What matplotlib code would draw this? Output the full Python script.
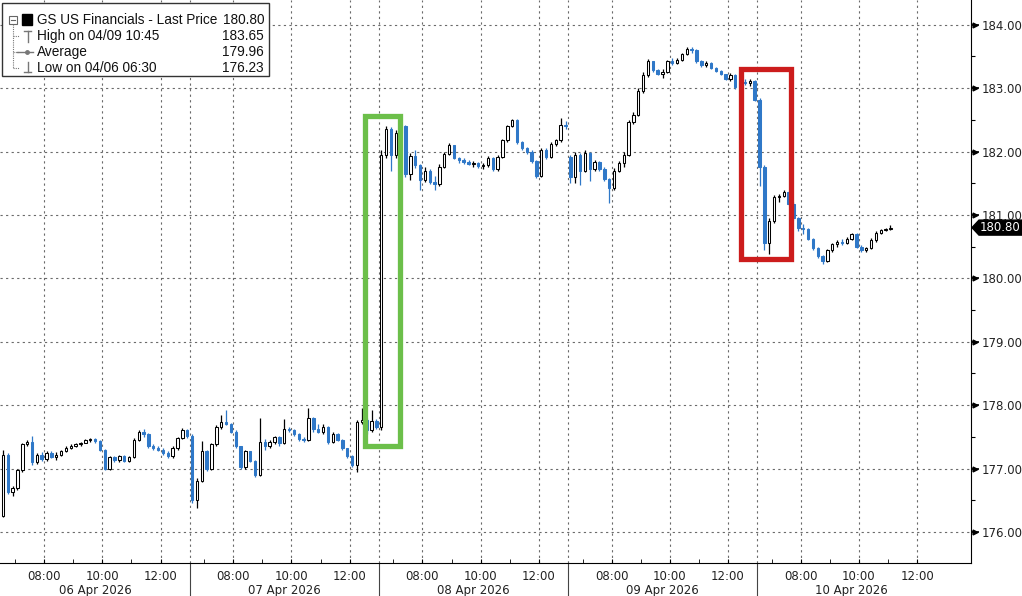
import matplotlib
matplotlib.use("Agg")
import matplotlib.pyplot as plt
from matplotlib.patches import Rectangle, Polygon
from matplotlib.lines import Line2D
import matplotlib.transforms as mtransforms

# ---------------- data (10-minute bars, session 06:30-13:00) ----------------
day_labels = ["06 Apr 2026", "07 Apr 2026", "08 Apr 2026", "09 Apr 2026", "10 Apr 2026"]
hour_labels = ["08:00", "10:00", "12:00"]
hour_values = [8, 10, 12]
price_ticks = [176, 177, 178, 179, 180, 181, 182, 183, 184]

# (open, high, low, close)
ohlc_apr06 = [
    (176.25, 177.30, 176.23, 177.22), (177.22, 177.25, 176.60, 176.63), (176.63, 176.72, 176.57, 176.70),
    (176.70, 177.00, 176.66, 176.98), (176.98, 177.40, 176.95, 177.38), (177.38, 177.45, 177.35, 177.42),
    (177.42, 177.51, 177.05, 177.10), (177.10, 177.25, 177.07, 177.22), (177.22, 177.26, 177.12, 177.15),
    (177.15, 177.27, 177.12, 177.24), (177.24, 177.27, 177.16, 177.18), (177.18, 177.26, 177.14, 177.22),
    (177.22, 177.30, 177.20, 177.28), (177.28, 177.35, 177.26, 177.33), (177.33, 177.38, 177.31, 177.36),
    (177.36, 177.40, 177.34, 177.38), (177.38, 177.42, 177.35, 177.41), (177.41, 177.47, 177.40, 177.45),
    (177.45, 177.48, 177.42, 177.46), (177.46, 177.48, 177.40, 177.44), (177.44, 177.45, 177.28, 177.30),
    (177.30, 177.31, 176.97, 177.00), (177.00, 177.20, 176.98, 177.18), (177.18, 177.20, 177.10, 177.13),
    (177.13, 177.22, 177.10, 177.20), (177.20, 177.21, 177.10, 177.12), (177.12, 177.20, 177.10, 177.18),
    (177.18, 177.48, 177.16, 177.45), (177.45, 177.60, 177.43, 177.58), (177.58, 177.63, 177.50, 177.55),
    (177.55, 177.56, 177.33, 177.36), (177.36, 177.38, 177.30, 177.33), (177.33, 177.36, 177.28, 177.30),
    (177.30, 177.32, 177.22, 177.25), (177.25, 177.27, 177.17, 177.19), (177.19, 177.35, 177.17, 177.33),
    (177.33, 177.50, 177.30, 177.48), (177.48, 177.64, 177.46, 177.60), (177.60, 177.63, 177.48, 177.52),
]
ohlc_apr07 = [
    (177.52, 177.55, 176.45, 176.50), (176.50, 176.85, 176.38, 176.80), (176.80, 177.43, 176.78, 177.28),
    (177.28, 177.30, 176.96, 177.00), (177.00, 177.40, 176.98, 177.38), (177.38, 177.68, 177.35, 177.65),
    (177.65, 177.85, 177.62, 177.74), (177.74, 177.93, 177.68, 177.71), (177.71, 177.72, 177.56, 177.58),
    (177.58, 177.60, 177.33, 177.35), (177.35, 177.36, 176.99, 177.03), (177.03, 177.30, 177.00, 177.27),
    (177.27, 177.28, 177.10, 177.12), (177.12, 177.14, 176.86, 176.90), (176.90, 177.80, 176.88, 177.42),
    (177.42, 177.46, 177.30, 177.35), (177.35, 177.45, 177.32, 177.42), (177.42, 177.52, 177.38, 177.50),
    (177.50, 177.52, 177.36, 177.40), (177.40, 177.78, 177.38, 177.63), (177.63, 177.66, 177.58, 177.60),
    (177.60, 177.62, 177.52, 177.54), (177.54, 177.56, 177.44, 177.47), (177.47, 177.50, 177.42, 177.45),
    (177.45, 177.95, 177.43, 177.80), (177.80, 177.82, 177.58, 177.62), (177.62, 177.70, 177.56, 177.58),
    (177.58, 177.70, 177.55, 177.66), (177.66, 177.67, 177.38, 177.42), (177.42, 177.58, 177.40, 177.55),
    (177.55, 177.56, 177.43, 177.45), (177.45, 177.46, 177.30, 177.32), (177.32, 177.33, 177.17, 177.20),
    (177.20, 177.22, 177.02, 177.05), (177.05, 177.77, 176.95, 177.74), (177.74, 177.95, 177.70, 177.76),
    (177.76, 177.80, 177.55, 177.60), (177.60, 177.93, 177.58, 177.75), (177.75, 177.78, 177.62, 177.66),
]
ohlc_apr08 = [
    (177.66, 182.03, 177.60, 181.95), (181.95, 182.40, 181.90, 182.35), (182.35, 182.38, 181.69, 181.95),
    (181.95, 182.34, 181.90, 182.30), (182.30, 182.48, 182.25, 182.40), (182.40, 182.42, 181.60, 181.65),
    (181.65, 181.98, 181.55, 181.93), (181.93, 182.02, 181.74, 181.78), (181.78, 181.80, 181.40, 181.55),
    (181.55, 181.76, 181.52, 181.70), (181.70, 181.72, 181.48, 181.52), (181.52, 181.62, 181.40, 181.48),
    (181.48, 181.80, 181.46, 181.76), (181.76, 182.00, 181.74, 181.96), (181.96, 182.13, 181.94, 182.10),
    (182.10, 182.11, 181.88, 181.90), (181.90, 181.92, 181.82, 181.86), (181.86, 181.90, 181.80, 181.84),
    (181.84, 181.87, 181.78, 181.80), (181.80, 181.85, 181.76, 181.82), (181.82, 181.84, 181.74, 181.77),
    (181.77, 181.82, 181.72, 181.78), (181.78, 181.93, 181.76, 181.90), (181.90, 181.92, 181.70, 181.73),
    (181.73, 181.95, 181.70, 181.92), (181.92, 182.20, 181.90, 182.18), (182.18, 182.42, 182.15, 182.40),
    (182.40, 182.52, 182.38, 182.50), (182.50, 182.52, 182.12, 182.15), (182.15, 182.16, 182.02, 182.05),
    (182.05, 182.07, 181.96, 182.00), (182.00, 182.02, 181.82, 181.85), (181.85, 181.86, 181.58, 181.62),
    (181.62, 182.05, 181.60, 182.02), (182.02, 182.05, 181.88, 181.92), (181.92, 182.15, 181.90, 182.12),
    (182.12, 182.20, 182.08, 182.18), (182.18, 182.53, 182.15, 182.42), (182.42, 182.48, 182.35, 182.40),
]
ohlc_apr09 = [
    (181.92, 181.95, 181.50, 181.60), (181.60, 182.00, 181.50, 181.95), (181.95, 181.97, 181.47, 181.70),
    (181.70, 182.02, 181.68, 181.98), (181.98, 182.00, 181.53, 181.72), (181.72, 181.86, 181.70, 181.84),
    (181.84, 181.85, 181.70, 181.73), (181.73, 181.75, 181.53, 181.56), (181.56, 181.58, 181.19, 181.42),
    (181.42, 181.74, 181.40, 181.70), (181.70, 181.85, 181.68, 181.82), (181.82, 182.00, 181.76, 181.95),
    (181.95, 182.50, 181.93, 182.46), (182.46, 182.62, 182.44, 182.58), (182.58, 183.00, 182.56, 182.95),
    (182.95, 183.25, 182.93, 183.20), (183.20, 183.46, 183.18, 183.42), (183.42, 183.43, 183.25, 183.28),
    (183.28, 183.30, 183.20, 183.22), (183.22, 183.30, 183.16, 183.26), (183.26, 183.45, 183.24, 183.42),
    (183.42, 183.47, 183.36, 183.40), (183.40, 183.47, 183.38, 183.45), (183.45, 183.56, 183.43, 183.54),
    (183.54, 183.65, 183.52, 183.62), (183.62, 183.65, 183.55, 183.60), (183.60, 183.61, 183.40, 183.42),
    (183.42, 183.44, 183.33, 183.36), (183.36, 183.43, 183.34, 183.40), (183.40, 183.41, 183.30, 183.32),
    (183.32, 183.33, 183.25, 183.27), (183.27, 183.28, 183.20, 183.22), (183.22, 183.23, 183.13, 183.15),
    (183.15, 183.24, 183.12, 183.21), (183.21, 183.22, 182.98, 183.02), (183.02, 183.13, 183.00, 183.10),
    (183.10, 183.14, 183.05, 183.08), (183.08, 183.14, 183.04, 183.12), (183.12, 183.13, 182.80, 182.82),
]
ohlc_apr10 = [
    (182.82, 182.84, 181.45, 181.75), (181.75, 181.78, 180.45, 180.55), (180.55, 180.95, 180.39, 180.90),
    (180.90, 181.32, 180.88, 181.28), (181.28, 181.33, 181.20, 181.30), (181.30, 181.40, 181.28, 181.36),
    (181.36, 181.38, 181.15, 181.18), (181.18, 181.20, 180.92, 180.95), (180.95, 180.97, 180.75, 180.80),
    (180.80, 180.85, 180.70, 180.78), (180.78, 180.80, 180.60, 180.62), (180.62, 180.63, 180.45, 180.48),
    (180.48, 180.50, 180.32, 180.35), (180.35, 180.37, 180.22, 180.28), (180.28, 180.46, 180.26, 180.44),
    (180.44, 180.56, 180.42, 180.54), (180.54, 180.60, 180.50, 180.58), (180.58, 180.62, 180.53, 180.56),
    (180.56, 180.65, 180.54, 180.62), (180.62, 180.72, 180.60, 180.70), (180.70, 180.71, 180.48, 180.50),
    (180.50, 180.52, 180.42, 180.45), (180.45, 180.50, 180.42, 180.48), (180.48, 180.63, 180.46, 180.60),
    (180.60, 180.74, 180.58, 180.72), (180.72, 180.78, 180.70, 180.76), (180.76, 180.80, 180.74, 180.78),
    (180.78, 180.84, 180.76, 180.80),
]
sessions = [ohlc_apr06, ohlc_apr07, ohlc_apr08, ohlc_apr09, ohlc_apr10]

legend_names = ["GS US Financials - Last Price", "High on 04/09 10:45", "Average", "Low on 04/06 06:30"]
legend_values = ["180.80", "183.65", "179.96", "176.23"]
last_price = 180.80

# highlight boxes: (x0, x1 in bar units, y0, y1 price)
green_box = (74.6, 81.8, 177.35, 182.56)
red_box = (152.1, 162.4, 180.30, 183.30)

# ---------------- figure ----------------
W, H = 1022, 596
BARS_PER_DAY = 39
UP_EDGE = "#000000"
DOWN_COL = "#2f78c8"
GRID_COL = "#6a6a6a"
LEG_FONT = ["Liberation Sans", "DejaVu Sans"]

fig = plt.figure(figsize=(W / 100, H / 100), dpi=100)
ax = fig.add_axes([0.0, 33 / H, 971 / W, 563 / H])
ax.set_xlim(-0.6, 199.6)
ax.set_ylim(175.51, 184.39)

def bar_pos(day, hour):
    return day * BARS_PER_DAY + (hour - 6.5) * 6 - 0.5

# grid
for p in price_ticks:
    ax.axhline(p, color=GRID_COL, lw=0.8, ls=(0, (2, 3)), zorder=1)
for d in range(5):
    for h in hour_values:
        ax.axvline(bar_pos(d, h), color=GRID_COL, lw=0.8, ls=(0, (2, 3)), zorder=1)
    if d > 0:
        ax.axvline(d * BARS_PER_DAY - 0.5, color=GRID_COL, lw=0.8, ls=(0, (2, 3)), zorder=1)

# candles
bw = 0.5
for d, sess in enumerate(sessions):
    for k, (o, h, l, c) in enumerate(sess):
        x = d * BARS_PER_DAY + k
        up = c >= o
        col = UP_EDGE if up else DOWN_COL
        ax.vlines(x, l, h, color=col, lw=0.9, zorder=3)
        lo = min(o, c)
        hgt = max(abs(c - o), 0.012)
        ax.bar(x, hgt, bottom=lo, width=bw, color="white" if up else DOWN_COL,
               edgecolor=col, linewidth=0.75, zorder=4)

# highlight boxes
gx0, gx1, gy0, gy1 = green_box
ax.add_patch(Rectangle((gx0, gy0), gx1 - gx0, gy1 - gy0, fill=False,
                       edgecolor="#6cbf4a", linewidth=3.8, zorder=6))
rx0, rx1, ry0, ry1 = red_box
ax.add_patch(Rectangle((rx0, ry0), rx1 - rx0, ry1 - ry0, fill=False,
                       edgecolor="#cc1c1c", linewidth=3.8, zorder=6))

# spines
for s in ["left", "top"]:
    ax.spines[s].set_visible(False)
ax.spines["right"].set_color("black")
ax.spines["bottom"].set_color("black")

# y axis on right
ax.yaxis.tick_right()
ax.set_yticks(price_ticks)
ax.set_yticklabels([f"{p:.2f}" for p in price_ticks], fontsize=8.5, color="#222222")
ax.set_yticks([p + 0.5 for p in price_ticks[:-1]], minor=True)
ax.tick_params(axis="y", which="major", direction="out", length=6, width=1.2, pad=2)
ax.tick_params(axis="y", which="minor", direction="out", length=3, width=0.8)
trans_y = mtransforms.blended_transform_factory(ax.transAxes, ax.transData)
ax.plot([1.0045] * len(price_ticks), price_ticks, ">", ms=3.5, color="black",
        transform=trans_y, clip_on=False, zorder=7)

# x axis
xt = [bar_pos(d, h) for d in range(5) for h in hour_values]
ax.set_xticks(xt)
ax.set_xticklabels(hour_labels * 5, fontsize=8.5, color="#222222")
ax.set_xticks([bar_pos(d, h) for d in range(5) for h in range(7, 13)], minor=True)
ax.tick_params(axis="x", which="major", direction="in", length=3, pad=5)
ax.tick_params(axis="x", which="minor", direction="in", length=3)

trans_x = mtransforms.blended_transform_factory(ax.transData, ax.transAxes)
for d, lab in enumerate(day_labels):
    ax.text(d * BARS_PER_DAY + 19, -0.048, lab, transform=trans_x, ha="center",
            va="center", fontsize=8.5, color="#222222")
    if d > 0:
        ax.plot([d * BARS_PER_DAY - 0.5] * 2, [0, -0.06], color="#444444", lw=0.8,
                transform=trans_x, clip_on=False)

# last price tag
yc = last_price
hh = 7.5 / 63.4
xa = 972 / W
xb = 979 / W
tag_tr = mtransforms.blended_transform_factory(fig.transFigure, ax.transData)
tag = Polygon([(xa, yc), (xb, yc + hh), (1.0, yc + hh), (1.0, yc - hh), (xb, yc - hh)],
              closed=True, transform=tag_tr,
              facecolor="black", edgecolor="black", clip_on=False, zorder=8)
fig.add_artist(tag)
fig.text(1000 / W, yc, f"{last_price:.2f}", color="white", fontsize=8.5, ha="center", va="center",
         transform=tag_tr, zorder=9)

# ---------------- legend box (pixel coordinates, top-left origin) ----------------
def P(x, y):
    return (x / W, 1 - y / H)

def fline(x0, y0, x1, y1, **kw):
    (a, b), (c, d) = P(x0, y0), P(x1, y1)
    fig.add_artist(Line2D([a, c], [b, d], transform=fig.transFigure, **kw))

bx0, by0 = P(2, 76)
fig.add_artist(Rectangle((bx0, by0), 267 / W, 73 / H, transform=fig.transFigure,
                         facecolor="white", edgecolor="#333333", lw=1.0, zorder=10))
rows_y = [20, 36, 52, 68]
tree_kw = dict(color="#777777", lw=0.8, ls=(0, (1, 1)), zorder=11)
fline(13, 24, 13, 68, **tree_kw)
for yy in rows_y[1:]:
    fline(13, yy, 19, yy, **tree_kw)
# collapse box
cx0, cy0 = P(9, 24)
fig.add_artist(Rectangle((cx0, cy0), 8 / W, 8 / H, transform=fig.transFigure,
                         facecolor="white", edgecolor="#666666", lw=0.8, zorder=12))
fline(11, 20, 15, 20, color="#666666", lw=0.8, zorder=13)
# black square
sx0, sy0 = P(22, 25)
fig.add_artist(Rectangle((sx0, sy0), 10 / W, 11 / H, transform=fig.transFigure,
                         facecolor="black", edgecolor="black", zorder=12))
# high icon
fline(24, 31, 31, 31, color="#777777", lw=1.0, zorder=12)
fline(27.5, 31, 27.5, 42, color="#777777", lw=1.0, zorder=12)
# average icon
fline(17, 52, 33, 52, color="#777777", lw=1.0, zorder=12)
ax_pt = P(27, 52)
fig.add_artist(Line2D([ax_pt[0]], [ax_pt[1]], marker="o", ms=2.5, color="#777777",
                      transform=fig.transFigure, zorder=13))
# low icon
fline(27.5, 62, 27.5, 72, color="#777777", lw=1.0, zorder=12)
fline(24, 72, 31, 72, color="#777777", lw=1.0, zorder=12)

for yy, name, val in zip(rows_y, legend_names, legend_values):
    tx, ty = P(37, yy)
    fig.text(tx, ty, name, fontsize=9.8, family=LEG_FONT, color="#111111",
             ha="left", va="center", zorder=14)
    vx, vy = P(264, yy)
    fig.text(vx, vy, val, fontsize=9.8, family=LEG_FONT, color="#111111",
             ha="right", va="center", zorder=14)

fig.savefig("out.png", dpi=100, facecolor="white")
